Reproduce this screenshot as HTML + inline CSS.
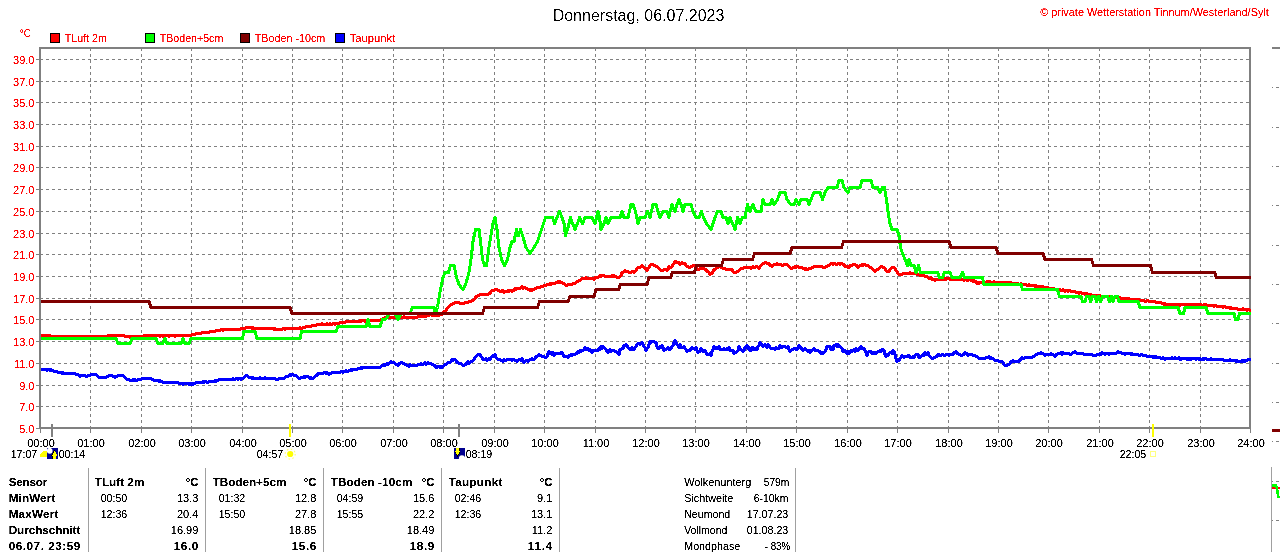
<!DOCTYPE html>
<html lang="de"><head><meta charset="utf-8"><title>Donnerstag, 06.07.2023</title>
<style>
html,body{margin:0;padding:0;background:#fff;overflow:hidden}
svg{display:block}
text{font-family:"Liberation Sans",Arial,sans-serif;white-space:pre}
</style></head><body>
<svg width="1280" height="552" viewBox="0 0 1280 552"><defs><filter id="tf" x="0" y="0" width="1280" height="552" filterUnits="userSpaceOnUse" color-interpolation-filters="sRGB"><feComponentTransfer><feFuncA type="linear" slope="3" intercept="-0.75"/></feComponentTransfer></filter><filter id="tf2" x="0" y="0" width="1280" height="552" filterUnits="userSpaceOnUse" color-interpolation-filters="sRGB"><feComponentTransfer><feFuncA type="linear" slope="1.6" intercept="-0.45"/></feComponentTransfer></filter></defs><g stroke="#808080" stroke-width="1" stroke-dasharray="3 3" shape-rendering="crispEdges"><line x1="40" y1="59.5" x2="1249" y2="59.5"/><line x1="40" y1="81.5" x2="1249" y2="81.5"/><line x1="40" y1="102.5" x2="1249" y2="102.5"/><line x1="40" y1="124.5" x2="1249" y2="124.5"/><line x1="40" y1="146.5" x2="1249" y2="146.5"/><line x1="40" y1="167.5" x2="1249" y2="167.5"/><line x1="40" y1="189.5" x2="1249" y2="189.5"/><line x1="40" y1="211.5" x2="1249" y2="211.5"/><line x1="40" y1="233.5" x2="1249" y2="233.5"/><line x1="40" y1="254.5" x2="1249" y2="254.5"/><line x1="40" y1="276.5" x2="1249" y2="276.5"/><line x1="40" y1="298.5" x2="1249" y2="298.5"/><line x1="40" y1="319.5" x2="1249" y2="319.5"/><line x1="40" y1="341.5" x2="1249" y2="341.5"/><line x1="40" y1="363.5" x2="1249" y2="363.5"/><line x1="40" y1="385.5" x2="1249" y2="385.5"/><line x1="40" y1="406.5" x2="1249" y2="406.5"/><line x1="90.5" y1="48" x2="90.5" y2="427"/><line x1="141.5" y1="48" x2="141.5" y2="427"/><line x1="191.5" y1="48" x2="191.5" y2="427"/><line x1="242.5" y1="48" x2="242.5" y2="427"/><line x1="292.5" y1="48" x2="292.5" y2="427"/><line x1="342.5" y1="48" x2="342.5" y2="427"/><line x1="393.5" y1="48" x2="393.5" y2="427"/><line x1="443.5" y1="48" x2="443.5" y2="427"/><line x1="494.5" y1="48" x2="494.5" y2="427"/><line x1="544.5" y1="48" x2="544.5" y2="427"/><line x1="595.5" y1="48" x2="595.5" y2="427"/><line x1="645.5" y1="48" x2="645.5" y2="427"/><line x1="695.5" y1="48" x2="695.5" y2="427"/><line x1="746.5" y1="48" x2="746.5" y2="427"/><line x1="796.5" y1="48" x2="796.5" y2="427"/><line x1="847.5" y1="48" x2="847.5" y2="427"/><line x1="897.5" y1="48" x2="897.5" y2="427"/><line x1="948.5" y1="48" x2="948.5" y2="427"/><line x1="998.5" y1="48" x2="998.5" y2="427"/><line x1="1048.5" y1="48" x2="1048.5" y2="427"/><line x1="1099.5" y1="48" x2="1099.5" y2="427"/><line x1="1149.5" y1="48" x2="1149.5" y2="427"/><line x1="1200.5" y1="48" x2="1200.5" y2="427"/></g>
<g stroke="#808080" stroke-width="1" shape-rendering="crispEdges"><line x1="36" y1="59.5" x2="40" y2="59.5"/><line x1="36" y1="81.5" x2="40" y2="81.5"/><line x1="36" y1="102.5" x2="40" y2="102.5"/><line x1="36" y1="124.5" x2="40" y2="124.5"/><line x1="36" y1="146.5" x2="40" y2="146.5"/><line x1="36" y1="167.5" x2="40" y2="167.5"/><line x1="36" y1="189.5" x2="40" y2="189.5"/><line x1="36" y1="211.5" x2="40" y2="211.5"/><line x1="36" y1="233.5" x2="40" y2="233.5"/><line x1="36" y1="254.5" x2="40" y2="254.5"/><line x1="36" y1="276.5" x2="40" y2="276.5"/><line x1="36" y1="298.5" x2="40" y2="298.5"/><line x1="36" y1="319.5" x2="40" y2="319.5"/><line x1="36" y1="341.5" x2="40" y2="341.5"/><line x1="36" y1="363.5" x2="40" y2="363.5"/><line x1="36" y1="385.5" x2="40" y2="385.5"/><line x1="36" y1="406.5" x2="40" y2="406.5"/><line x1="36" y1="428.5" x2="40" y2="428.5"/><line x1="40.5" y1="428" x2="40.5" y2="433"/><line x1="90.5" y1="428" x2="90.5" y2="433"/><line x1="141.5" y1="428" x2="141.5" y2="433"/><line x1="191.5" y1="428" x2="191.5" y2="433"/><line x1="242.5" y1="428" x2="242.5" y2="433"/><line x1="292.5" y1="428" x2="292.5" y2="433"/><line x1="342.5" y1="428" x2="342.5" y2="433"/><line x1="393.5" y1="428" x2="393.5" y2="433"/><line x1="443.5" y1="428" x2="443.5" y2="433"/><line x1="494.5" y1="428" x2="494.5" y2="433"/><line x1="544.5" y1="428" x2="544.5" y2="433"/><line x1="595.5" y1="428" x2="595.5" y2="433"/><line x1="645.5" y1="428" x2="645.5" y2="433"/><line x1="695.5" y1="428" x2="695.5" y2="433"/><line x1="746.5" y1="428" x2="746.5" y2="433"/><line x1="796.5" y1="428" x2="796.5" y2="433"/><line x1="847.5" y1="428" x2="847.5" y2="433"/><line x1="897.5" y1="428" x2="897.5" y2="433"/><line x1="948.5" y1="428" x2="948.5" y2="433"/><line x1="998.5" y1="428" x2="998.5" y2="433"/><line x1="1048.5" y1="428" x2="1048.5" y2="433"/><line x1="1099.5" y1="428" x2="1099.5" y2="433"/><line x1="1149.5" y1="428" x2="1149.5" y2="433"/><line x1="1200.5" y1="428" x2="1200.5" y2="433"/><line x1="1250.5" y1="428" x2="1250.5" y2="433"/></g>
<clipPath id="pc"><rect x="41" y="49" width="1210" height="379"/></clipPath>
<g fill="#808080" shape-rendering="crispEdges"><rect x="39" y="47" width="2" height="382"/><rect x="39" y="47" width="1212" height="2"/><rect x="39" y="427" width="1212" height="2"/><rect x="1249" y="47" width="2" height="382"/></g>
<g shape-rendering="crispEdges" clip-path="url(#pc)"><polyline points="40.0,335.5 41.0,335.5 42.0,335.5 43.0,335.5 44.0,336.5 45.0,335.5 46.0,335.5 47.0,336.5 48.0,335.5 49.0,336.5 50.0,335.5 51.0,336.5 52.0,336.5 53.0,336.5 54.0,336.5 55.0,336.5 56.0,336.5 57.0,336.5 58.0,336.5 59.0,336.5 60.0,336.5 61.0,336.5 62.0,336.5 63.0,336.5 64.0,336.5 65.0,336.5 66.0,336.5 67.0,336.5 68.0,336.5 69.0,336.5 70.0,336.5 71.0,336.5 72.0,336.5 73.0,337.5 74.0,336.5 75.0,336.5 76.0,336.5 77.0,336.5 78.0,336.5 79.0,337.5 80.0,336.5 81.0,336.5 82.0,336.5 83.0,336.5 84.0,336.5 85.0,336.5 86.0,336.5 87.0,336.5 88.0,336.5 89.0,336.5 90.0,336.5 91.0,336.5 92.0,336.5 93.0,336.5 94.0,336.5 95.0,336.5 96.0,336.5 97.0,336.5 98.0,336.5 99.0,336.5 100.0,336.5 101.0,336.5 102.0,336.5 103.0,336.5 104.0,336.5 105.0,336.5 106.0,336.5 107.0,336.5 108.0,335.5 109.0,335.5 110.0,335.5 111.0,335.5 112.0,335.5 113.0,335.5 114.0,335.5 115.0,335.5 116.0,335.5 117.0,335.5 118.0,335.5 119.0,335.5 120.0,335.5 121.0,335.5 122.0,335.5 123.0,335.5 124.0,335.5 125.0,336.5 126.0,336.5 127.0,336.5 128.0,336.5 129.0,336.5 130.0,337.5 131.0,336.5 132.0,336.5 133.0,336.5 134.0,336.5 135.0,336.5 136.0,336.5 137.0,336.5 138.0,336.5 139.0,336.5 140.0,336.5 141.0,336.5 142.0,336.5 143.0,336.5 144.0,335.5 145.0,335.5 146.0,335.5 147.0,336.5 148.0,335.5 149.0,335.5 150.0,335.5 151.0,335.5 152.0,335.5 153.0,335.5 154.0,335.5 155.0,335.5 156.0,335.5 157.0,335.5 158.0,335.5 159.0,335.5 160.0,336.5 161.0,335.5 162.0,335.5 163.0,336.5 164.0,335.5 165.0,336.5 166.0,335.5 167.0,335.5 168.0,335.5 169.0,336.5 170.0,335.5 171.0,335.5 172.0,335.5 173.0,335.5 174.0,335.5 175.0,336.5 176.0,335.5 177.0,335.5 178.0,335.5 179.0,335.5 180.0,335.5 181.0,335.5 182.0,335.5 183.0,335.5 184.0,335.5 185.0,335.5 186.0,335.5 187.0,335.5 188.0,335.5 189.0,335.5 190.0,335.5 191.0,335.5 192.0,334.5 193.0,334.5 194.0,334.5 195.0,334.5 196.0,333.5 197.0,333.5 198.0,333.5 199.0,333.5 200.0,333.5 201.0,333.5 202.0,332.5 203.0,332.5 204.0,332.5 205.0,332.5 206.0,332.5 207.0,332.5 208.0,332.5 209.0,332.5 210.0,331.5 211.0,331.5 212.0,331.5 213.0,331.5 214.0,331.5 215.0,331.5 216.0,330.5 217.0,330.5 218.0,330.5 219.0,330.5 220.0,330.5 221.0,329.5 222.0,329.5 223.0,330.5 224.0,329.5 225.0,329.5 226.0,329.5 227.0,329.5 228.0,329.5 229.0,329.5 230.0,329.5 231.0,329.5 232.0,329.5 233.0,329.5 234.0,329.5 235.0,329.5 236.0,329.5 237.0,329.5 238.0,329.5 239.0,329.5 240.0,329.5 241.0,328.5 242.0,328.5 243.0,328.5 244.0,328.5 245.0,328.5 246.0,327.5 247.0,327.5 248.0,327.5 249.0,327.5 250.0,327.5 251.0,327.5 252.0,328.5 253.0,327.5 254.0,328.5 255.0,328.5 256.0,328.5 257.0,328.5 258.0,328.5 259.0,328.5 260.0,328.5 261.0,328.5 262.0,328.5 263.0,328.5 264.0,328.5 265.0,328.5 266.0,328.5 267.0,328.5 268.0,328.5 269.0,328.5 270.0,328.5 271.0,328.5 272.0,328.5 273.0,328.5 274.0,329.5 275.0,328.5 276.0,329.5 277.0,329.5 278.0,329.5 279.0,329.5 280.0,329.5 281.0,329.5 282.0,329.5 283.0,328.5 284.0,328.5 285.0,329.5 286.0,328.5 287.0,328.5 288.0,328.5 289.0,328.5 290.0,328.5 291.0,328.5 292.0,328.5 293.0,328.5 294.0,328.5 295.0,328.5 296.0,328.5 297.0,328.5 298.0,328.5 299.0,328.5 300.0,327.5 301.0,328.5 302.0,328.5 303.0,327.5 304.0,327.5 305.0,327.5 306.0,326.5 307.0,326.5 308.0,326.5 309.0,326.5 310.0,326.5 311.0,326.5 312.0,325.5 313.0,325.5 314.0,325.5 315.0,325.5 316.0,325.5 317.0,324.5 318.0,324.5 319.0,324.5 320.0,324.5 321.0,324.5 322.0,323.5 323.0,324.5 324.0,324.5 325.0,324.5 326.0,324.5 327.0,323.5 328.0,324.5 329.0,324.5 330.0,323.5 331.0,324.5 332.0,324.5 333.0,323.5 334.0,323.5 335.0,324.5 336.0,323.5 337.0,323.5 338.0,323.5 339.0,323.5 340.0,322.5 341.0,322.5 342.0,322.5 343.0,322.5 344.0,322.5 345.0,322.5 346.0,321.5 347.0,321.5 348.0,321.5 349.0,321.5 350.0,321.5 351.0,321.5 352.0,321.5 353.0,321.5 354.0,321.5 355.0,321.5 356.0,321.5 357.0,321.5 358.0,321.5 359.0,321.5 360.0,320.5 361.0,321.5 362.0,320.5 363.0,320.5 364.0,320.5 365.0,321.5 366.0,320.5 367.0,320.5 368.0,320.5 369.0,320.5 370.0,320.5 371.0,320.5 372.0,320.5 373.0,320.5 374.0,320.5 375.0,320.5 376.0,320.5 377.0,320.5 378.0,320.5 379.0,320.5 380.0,320.5 381.0,319.5 382.0,319.5 383.0,318.5 384.0,318.5 385.0,317.5 386.0,317.5 387.0,317.5 388.0,317.5 389.0,317.5 390.0,317.5 391.0,317.5 392.0,317.5 393.0,317.5 394.0,317.5 395.0,317.5 396.0,317.5 397.0,317.5 398.0,317.5 399.0,316.5 400.0,317.5 401.0,316.5 402.0,317.5 403.0,317.5 404.0,316.5 405.0,317.5 406.0,317.5 407.0,317.5 408.0,317.5 409.0,317.5 410.0,317.5 411.0,317.5 412.0,317.5 413.0,317.5 414.0,317.5 415.0,317.5 416.0,317.5 417.0,317.5 418.0,316.5 419.0,316.5 420.0,316.5 421.0,316.5 422.0,316.5 423.0,316.5 424.0,316.5 425.0,316.5 426.0,316.5 427.0,315.5 428.0,315.5 429.0,315.5 430.0,314.5 431.0,314.5 432.0,315.5 433.0,315.5 434.0,315.5 435.0,315.5 436.0,315.5 437.0,315.5 438.0,315.5 439.0,315.5 440.0,314.5 441.0,314.5 442.0,314.5 443.0,313.5 444.0,311.5 445.0,311.5 446.0,310.5 447.0,308.5 448.0,307.5 449.0,306.5 450.0,305.5 451.0,304.5 452.0,304.5 453.0,303.5 454.0,303.5 455.0,302.5 456.0,302.5 457.0,302.5 458.0,302.5 459.0,302.5 460.0,303.5 461.0,303.5 462.0,303.5 463.0,303.5 464.0,303.5 465.0,302.5 466.0,302.5 467.0,302.5 468.0,302.5 469.0,301.5 470.0,301.5 471.0,301.5 472.0,300.5 473.0,300.5 474.0,299.5 475.0,298.5 476.0,296.5 477.0,296.5 478.0,295.5 479.0,295.5 480.0,294.5 481.0,294.5 482.0,294.5 483.0,294.5 484.0,294.5 485.0,294.5 486.0,294.5 487.0,294.5 488.0,294.5 489.0,293.5 490.0,293.5 491.0,291.5 492.0,290.5 493.0,290.5 494.0,290.5 495.0,289.5 496.0,289.5 497.0,289.5 498.0,290.5 499.0,290.5 500.0,291.5 501.0,291.5 502.0,290.5 503.0,290.5 504.0,292.5 505.0,291.5 506.0,291.5 507.0,291.5 508.0,290.5 509.0,291.5 510.0,290.5 511.0,290.5 512.0,291.5 513.0,290.5 514.0,290.5 515.0,288.5 516.0,289.5 517.0,288.5 518.0,288.5 519.0,288.5 520.0,288.5 521.0,287.5 522.0,286.5 523.0,288.5 524.0,287.5 525.0,287.5 526.0,288.5 527.0,288.5 528.0,289.5 529.0,289.5 530.0,290.5 531.0,289.5 532.0,290.5 533.0,289.5 534.0,289.5 535.0,288.5 536.0,288.5 537.0,287.5 538.0,287.5 539.0,287.5 540.0,287.5 541.0,286.5 542.0,286.5 543.0,286.5 544.0,285.5 545.0,285.5 546.0,285.5 547.0,284.5 548.0,284.5 549.0,284.5 550.0,283.5 551.0,284.5 552.0,283.5 553.0,283.5 554.0,283.5 555.0,283.5 556.0,282.5 557.0,282.5 558.0,281.5 559.0,282.5 560.0,281.5 561.0,282.5 562.0,282.5 563.0,283.5 564.0,283.5 565.0,284.5 566.0,285.5 567.0,285.5 568.0,284.5 569.0,284.5 570.0,284.5 571.0,284.5 572.0,284.5 573.0,283.5 574.0,283.5 575.0,283.5 576.0,282.5 577.0,281.5 578.0,281.5 579.0,280.5 580.0,280.5 581.0,279.5 582.0,278.5 583.0,278.5 584.0,278.5 585.0,278.5 586.0,277.5 587.0,278.5 588.0,278.5 589.0,278.5 590.0,278.5 591.0,278.5 592.0,278.5 593.0,278.5 594.0,279.5 595.0,277.5 596.0,277.5 597.0,277.5 598.0,277.5 599.0,276.5 600.0,275.5 601.0,276.5 602.0,275.5 603.0,275.5 604.0,275.5 605.0,276.5 606.0,276.5 607.0,276.5 608.0,276.5 609.0,276.5 610.0,276.5 611.0,276.5 612.0,275.5 613.0,276.5 614.0,275.5 615.0,276.5 616.0,276.5 617.0,277.5 618.0,277.5 619.0,277.5 620.0,276.5 621.0,275.5 622.0,272.5 623.0,272.5 624.0,271.5 625.0,270.5 626.0,271.5 627.0,271.5 628.0,271.5 629.0,272.5 630.0,272.5 631.0,272.5 632.0,271.5 633.0,271.5 634.0,272.5 635.0,271.5 636.0,270.5 637.0,268.5 638.0,267.5 639.0,267.5 640.0,267.5 641.0,266.5 642.0,265.5 643.0,266.5 644.0,267.5 645.0,268.5 646.0,268.5 647.0,270.5 648.0,268.5 649.0,267.5 650.0,265.5 651.0,264.5 652.0,264.5 653.0,264.5 654.0,265.5 655.0,265.5 656.0,266.5 657.0,266.5 658.0,267.5 659.0,268.5 660.0,269.5 661.0,270.5 662.0,270.5 663.0,270.5 664.0,269.5 665.0,269.5 666.0,269.5 667.0,270.5 668.0,269.5 669.0,266.5 670.0,267.5 671.0,267.5 672.0,266.5 673.0,264.5 674.0,263.5 675.0,261.5 676.0,261.5 677.0,262.5 678.0,262.5 679.0,262.5 680.0,264.5 681.0,263.5 682.0,262.5 683.0,263.5 684.0,263.5 685.0,263.5 686.0,265.5 687.0,266.5 688.0,266.5 689.0,267.5 690.0,267.5 691.0,266.5 692.0,266.5 693.0,265.5 694.0,265.5 695.0,265.5 696.0,266.5 697.0,268.5 698.0,269.5 699.0,269.5 700.0,268.5 701.0,268.5 702.0,268.5 703.0,268.5 704.0,268.5 705.0,269.5 706.0,269.5 707.0,271.5 708.0,271.5 709.0,272.5 710.0,274.5 711.0,273.5 712.0,273.5 713.0,271.5 714.0,269.5 715.0,269.5 716.0,268.5 717.0,267.5 718.0,267.5 719.0,266.5 720.0,266.5 721.0,267.5 722.0,267.5 723.0,268.5 724.0,268.5 725.0,268.5 726.0,269.5 727.0,269.5 728.0,269.5 729.0,269.5 730.0,269.5 731.0,269.5 732.0,269.5 733.0,271.5 734.0,272.5 735.0,272.5 736.0,272.5 737.0,271.5 738.0,271.5 739.0,270.5 740.0,269.5 741.0,268.5 742.0,268.5 743.0,268.5 744.0,267.5 745.0,267.5 746.0,267.5 747.0,267.5 748.0,267.5 749.0,267.5 750.0,267.5 751.0,268.5 752.0,267.5 753.0,266.5 754.0,267.5 755.0,267.5 756.0,266.5 757.0,266.5 758.0,267.5 759.0,268.5 760.0,266.5 761.0,265.5 762.0,264.5 763.0,263.5 764.0,263.5 765.0,262.5 766.0,262.5 767.0,263.5 768.0,263.5 769.0,263.5 770.0,265.5 771.0,265.5 772.0,266.5 773.0,265.5 774.0,264.5 775.0,264.5 776.0,264.5 777.0,263.5 778.0,264.5 779.0,264.5 780.0,264.5 781.0,264.5 782.0,265.5 783.0,265.5 784.0,264.5 785.0,264.5 786.0,264.5 787.0,264.5 788.0,265.5 789.0,266.5 790.0,267.5 791.0,268.5 792.0,268.5 793.0,267.5 794.0,267.5 795.0,266.5 796.0,267.5 797.0,266.5 798.0,266.5 799.0,267.5 800.0,267.5 801.0,267.5 802.0,267.5 803.0,268.5 804.0,268.5 805.0,269.5 806.0,268.5 807.0,269.5 808.0,269.5 809.0,268.5 810.0,268.5 811.0,268.5 812.0,267.5 813.0,267.5 814.0,266.5 815.0,266.5 816.0,266.5 817.0,266.5 818.0,266.5 819.0,266.5 820.0,266.5 821.0,266.5 822.0,266.5 823.0,267.5 824.0,267.5 825.0,267.5 826.0,266.5 827.0,266.5 828.0,265.5 829.0,265.5 830.0,264.5 831.0,263.5 832.0,263.5 833.0,264.5 834.0,263.5 835.0,263.5 836.0,264.5 837.0,264.5 838.0,263.5 839.0,263.5 840.0,264.5 841.0,263.5 842.0,263.5 843.0,264.5 844.0,264.5 845.0,266.5 846.0,266.5 847.0,266.5 848.0,267.5 849.0,267.5 850.0,265.5 851.0,265.5 852.0,265.5 853.0,264.5 854.0,264.5 855.0,264.5 856.0,265.5 857.0,265.5 858.0,267.5 859.0,266.5 860.0,265.5 861.0,265.5 862.0,264.5 863.0,265.5 864.0,264.5 865.0,264.5 866.0,265.5 867.0,265.5 868.0,265.5 869.0,266.5 870.0,267.5 871.0,267.5 872.0,268.5 873.0,269.5 874.0,270.5 875.0,271.5 876.0,270.5 877.0,269.5 878.0,269.5 879.0,268.5 880.0,267.5 881.0,266.5 882.0,266.5 883.0,267.5 884.0,267.5 885.0,268.5 886.0,270.5 887.0,271.5 888.0,271.5 889.0,271.5 890.0,269.5 891.0,268.5 892.0,267.5 893.0,267.5 894.0,267.5 895.0,268.5 896.0,270.5 897.0,271.5 898.0,273.5 899.0,274.5 900.0,274.5 901.0,274.5 902.0,274.5 903.0,273.5 904.0,273.5 905.0,273.5 906.0,273.5 907.0,273.5 908.0,273.5 909.0,273.5 910.0,272.5 911.0,273.5 912.0,273.5 913.0,273.5 914.0,273.5 915.0,273.5 916.0,273.5 917.0,274.5 918.0,274.5 919.0,274.5 920.0,275.5 921.0,274.5 922.0,275.5 923.0,274.5 924.0,275.5 925.0,276.5 926.0,276.5 927.0,276.5 928.0,277.5 929.0,278.5 930.0,278.5 931.0,277.5 932.0,279.5 933.0,279.5 934.0,279.5 935.0,280.5 936.0,279.5 937.0,279.5 938.0,279.5 939.0,279.5 940.0,279.5 941.0,279.5 942.0,279.5 943.0,279.5 944.0,279.5 945.0,278.5 946.0,279.5 947.0,278.5 948.0,278.5 949.0,278.5 950.0,279.5 951.0,279.5 952.0,279.5 953.0,279.5 954.0,279.5 955.0,279.5 956.0,279.5 957.0,279.5 958.0,279.5 959.0,278.5 960.0,279.5 961.0,279.5 962.0,279.5 963.0,279.5 964.0,280.5 965.0,279.5 966.0,279.5 967.0,280.5 968.0,280.5 969.0,279.5 970.0,279.5 971.0,280.5 972.0,280.5 973.0,281.5 974.0,280.5 975.0,281.5 976.0,281.5 977.0,283.5 978.0,282.5 979.0,283.5 980.0,282.5 981.0,282.5 982.0,282.5 983.0,282.5 984.0,281.5 985.0,282.5 986.0,282.5 987.0,281.5 988.0,281.5 989.0,282.5 990.0,281.5 991.0,282.5 992.0,282.5 993.0,282.5 994.0,281.5 995.0,282.5 996.0,282.5 997.0,282.5 998.0,282.5 999.0,282.5 1000.0,282.5 1001.0,282.5 1002.0,282.5 1003.0,282.5 1004.0,282.5 1005.0,282.5 1006.0,282.5 1007.0,283.5 1008.0,282.5 1009.0,282.5 1010.0,282.5 1011.0,282.5 1012.0,283.5 1013.0,283.5 1014.0,283.5 1015.0,283.5 1016.0,284.5 1017.0,283.5 1018.0,283.5 1019.0,284.5 1020.0,284.5 1021.0,283.5 1022.0,284.5 1023.0,284.5 1024.0,284.5 1025.0,284.5 1026.0,284.5 1027.0,285.5 1028.0,285.5 1029.0,284.5 1030.0,285.5 1031.0,285.5 1032.0,285.5 1033.0,285.5 1034.0,285.5 1035.0,286.5 1036.0,285.5 1037.0,286.5 1038.0,286.5 1039.0,286.5 1040.0,286.5 1041.0,287.5 1042.0,286.5 1043.0,286.5 1044.0,287.5 1045.0,287.5 1046.0,287.5 1047.0,287.5 1048.0,287.5 1049.0,288.5 1050.0,288.5 1051.0,288.5 1052.0,288.5 1053.0,289.5 1054.0,288.5 1055.0,289.5 1056.0,289.5 1057.0,289.5 1058.0,289.5 1059.0,290.5 1060.0,289.5 1061.0,290.5 1062.0,290.5 1063.0,289.5 1064.0,290.5 1065.0,291.5 1066.0,290.5 1067.0,290.5 1068.0,291.5 1069.0,290.5 1070.0,290.5 1071.0,291.5 1072.0,291.5 1073.0,291.5 1074.0,291.5 1075.0,291.5 1076.0,292.5 1077.0,292.5 1078.0,292.5 1079.0,293.5 1080.0,292.5 1081.0,292.5 1082.0,293.5 1083.0,293.5 1084.0,293.5 1085.0,294.5 1086.0,293.5 1087.0,293.5 1088.0,294.5 1089.0,294.5 1090.0,295.5 1091.0,294.5 1092.0,295.5 1093.0,295.5 1094.0,295.5 1095.0,295.5 1096.0,295.5 1097.0,295.5 1098.0,295.5 1099.0,295.5 1100.0,295.5 1101.0,296.5 1102.0,296.5 1103.0,296.5 1104.0,296.5 1105.0,296.5 1106.0,296.5 1107.0,296.5 1108.0,296.5 1109.0,296.5 1110.0,297.5 1111.0,296.5 1112.0,297.5 1113.0,297.5 1114.0,297.5 1115.0,297.5 1116.0,297.5 1117.0,297.5 1118.0,298.5 1119.0,297.5 1120.0,297.5 1121.0,298.5 1122.0,298.5 1123.0,298.5 1124.0,298.5 1125.0,298.5 1126.0,298.5 1127.0,299.5 1128.0,298.5 1129.0,298.5 1130.0,299.5 1131.0,299.5 1132.0,299.5 1133.0,299.5 1134.0,299.5 1135.0,299.5 1136.0,299.5 1137.0,299.5 1138.0,299.5 1139.0,299.5 1140.0,300.5 1141.0,300.5 1142.0,300.5 1143.0,300.5 1144.0,300.5 1145.0,301.5 1146.0,301.5 1147.0,300.5 1148.0,300.5 1149.0,301.5 1150.0,301.5 1151.0,301.5 1152.0,301.5 1153.0,301.5 1154.0,301.5 1155.0,301.5 1156.0,302.5 1157.0,302.5 1158.0,302.5 1159.0,302.5 1160.0,302.5 1161.0,302.5 1162.0,303.5 1163.0,303.5 1164.0,304.5 1165.0,303.5 1166.0,304.5 1167.0,304.5 1168.0,304.5 1169.0,304.5 1170.0,304.5 1171.0,305.5 1172.0,304.5 1173.0,304.5 1174.0,304.5 1175.0,304.5 1176.0,304.5 1177.0,305.5 1178.0,304.5 1179.0,304.5 1180.0,305.5 1181.0,304.5 1182.0,304.5 1183.0,304.5 1184.0,304.5 1185.0,304.5 1186.0,305.5 1187.0,304.5 1188.0,304.5 1189.0,304.5 1190.0,304.5 1191.0,305.5 1192.0,304.5 1193.0,304.5 1194.0,305.5 1195.0,304.5 1196.0,305.5 1197.0,304.5 1198.0,304.5 1199.0,304.5 1200.0,305.5 1201.0,304.5 1202.0,305.5 1203.0,305.5 1204.0,304.5 1205.0,304.5 1206.0,304.5 1207.0,305.5 1208.0,305.5 1209.0,305.5 1210.0,305.5 1211.0,305.5 1212.0,305.5 1213.0,305.5 1214.0,306.5 1215.0,305.5 1216.0,305.5 1217.0,306.5 1218.0,306.5 1219.0,306.5 1220.0,306.5 1221.0,306.5 1222.0,306.5 1223.0,307.5 1224.0,306.5 1225.0,306.5 1226.0,307.5 1227.0,307.5 1228.0,307.5 1229.0,307.5 1230.0,308.5 1231.0,307.5 1232.0,308.5 1233.0,308.5 1234.0,308.5 1235.0,308.5 1236.0,308.5 1237.0,308.5 1238.0,309.5 1239.0,309.5 1240.0,309.5 1241.0,309.5 1242.0,309.5 1243.0,308.5 1244.0,309.5 1245.0,309.5 1246.0,309.5 1247.0,310.5 1248.0,309.5 1249.0,309.5 1250.0,310.5" fill="none" stroke="#ff0000" stroke-width="3" stroke-linejoin="round" stroke-linecap="square"/><polyline points="40.0,338.5 116.0,338.5 118.0,343.5 130.0,343.5 132.0,338.5 156.0,338.5 158.0,343.5 162.5,343.5 165.0,338.5 167.0,343.5 181.0,343.5 183.0,338.5 185.0,343.5 189.0,343.5 191.0,338.5 242.5,338.5 244.0,331.5 255.0,331.5 257.0,338.5 300.0,338.5 301.5,331.5 336.0,331.5 338.0,326.5 350.0,326.5 366.0,326.5 368.0,319.5 370.0,326.5 380.0,326.5 382.5,319.5 385.0,319.5 390.0,313.5 395.0,313.5 398.0,319.5 401.0,313.5 410.0,313.5 412.5,307.5 417.5,307.5 422.5,307.5 430.0,307.5 434.0,307.5 435.5,313.5 437.5,307.5 440.5,289.5 443.0,277.5 445.0,272.5 448.5,272.5 450.5,265.5 454.0,265.5 456.5,277.5 459.0,284.5 463.0,289.5 465.5,284.5 469.0,272.5 471.0,259.5 473.0,241.5 475.5,229.5 479.0,229.5 480.5,241.5 482.5,259.5 484.5,265.5 486.5,265.5 489.0,247.5 491.0,235.5 493.0,223.5 495.0,217.5 497.0,229.5 499.0,247.5 501.5,259.5 504.5,265.5 507.5,259.5 510.0,247.5 512.0,241.5 514.0,241.5 516.5,229.5 518.5,235.5 520.5,229.5 522.5,235.5 526.0,247.5 530.0,253.5 534.0,247.5 537.5,241.5 541.5,229.5 543.5,223.5 545.5,217.5 552.5,217.5 554.5,223.5 557.0,217.5 559.5,211.5 562.0,217.5 564.0,223.5 565.5,235.5 567.5,229.5 570.5,217.5 572.5,223.5 575.0,229.5 577.5,223.5 579.5,217.5 582.5,223.5 585.0,217.5 592.0,217.5 595.0,223.5 598.0,211.5 599.5,217.5 601.0,229.5 604.0,223.5 606.0,217.5 608.0,223.5 611.0,217.5 620.0,217.5 622.0,211.5 624.0,217.5 628.0,217.5 631.0,204.5 633.0,204.5 635.5,211.5 638.0,223.5 640.0,217.5 645.0,217.5 647.5,211.5 650.0,217.5 653.0,204.5 656.0,204.5 658.0,211.5 660.0,217.5 663.0,211.5 667.0,211.5 669.0,217.5 670.0,211.5 672.0,204.5 675.0,211.5 677.0,204.5 679.0,199.5 681.0,204.5 683.0,211.5 685.0,204.5 691.0,204.5 693.0,211.5 696.0,217.5 699.0,217.5 701.5,211.5 703.5,217.5 706.5,223.5 711.0,229.5 713.0,223.5 715.0,217.5 717.5,211.5 721.0,211.5 723.0,217.5 726.0,217.5 728.0,223.5 730.0,217.5 732.5,223.5 735.0,229.5 737.5,217.5 740.0,223.5 742.5,217.5 745.0,217.5 747.5,204.5 750.0,211.5 753.0,204.5 756.0,211.5 761.0,211.5 763.0,199.5 765.0,204.5 770.0,204.5 772.0,199.5 774.0,204.5 777.5,199.5 780.0,192.5 783.0,192.5 785.0,192.5 787.0,199.5 791.0,204.5 794.0,204.5 796.0,199.5 799.0,204.5 801.0,199.5 807.0,199.5 809.0,204.5 811.0,199.5 814.0,192.5 820.0,192.5 822.5,199.5 825.0,192.5 828.0,187.5 832.0,187.5 834.0,187.5 837.0,187.5 839.0,180.5 842.0,180.5 844.0,187.5 848.0,192.5 850.0,187.5 860.0,187.5 862.0,180.5 871.0,180.5 873.0,187.5 877.5,187.5 880.0,192.5 882.5,187.5 884.5,187.5 886.5,199.5 888.0,211.5 890.0,223.5 892.0,229.5 897.0,229.5 899.0,235.5 900.5,247.5 902.5,253.5 905.0,259.5 907.5,265.5 909.0,259.5 911.0,265.5 914.0,265.5 916.0,272.5 918.5,265.5 920.5,272.5 937.5,272.5 939.5,277.5 942.5,277.5 944.5,272.5 950.0,272.5 952.0,277.5 960.0,277.5 962.5,272.5 964.5,277.5 982.5,277.5 984.0,284.5 1021.0,284.5 1022.5,289.5 1057.5,289.5 1059.5,296.5 1081.0,296.5 1082.5,301.5 1085.0,301.5 1086.5,296.5 1089.0,296.5 1090.5,301.5 1092.5,296.5 1095.0,296.5 1096.5,301.5 1098.5,296.5 1100.5,301.5 1102.5,296.5 1107.5,296.5 1109.5,301.5 1111.5,296.5 1113.0,301.5 1115.0,296.5 1117.5,296.5 1119.0,301.5 1138.0,301.5 1140.0,307.5 1178.0,307.5 1180.0,313.5 1183.5,313.5 1185.0,307.5 1206.0,307.5 1208.0,313.5 1234.0,313.5 1235.5,319.5 1238.0,319.5 1239.5,313.5 1250.0,313.5" fill="none" stroke="#00ff00" stroke-width="3" stroke-linejoin="round" stroke-linecap="square"/><polyline points="40.0,301.5 149.0,301.5 151.0,307.5 290.0,307.5 292.0,313.5 482.5,313.5 484.5,307.5 537.5,307.5 539.5,301.5 568.0,301.5 570.0,296.5 594.0,296.5 596.0,289.5 618.5,289.5 620.5,284.5 647.0,284.5 649.0,277.5 670.5,277.5 672.5,272.5 694.5,272.5 696.5,265.5 721.5,265.5 723.5,259.5 752.5,259.5 754.5,253.5 790.0,253.5 792.0,247.5 841.5,247.5 843.5,241.5 949.0,241.5 951.0,247.5 996.0,247.5 998.0,253.5 1043.0,253.5 1045.0,259.5 1091.5,259.5 1093.5,265.5 1150.5,265.5 1152.5,272.5 1214.5,272.5 1216.5,277.5 1249.0,277.5" fill="none" stroke="#800000" stroke-width="3" stroke-linejoin="round" stroke-linecap="square"/><polyline points="40.0,369.5 41.0,369.5 42.0,369.5 43.0,369.5 44.0,369.5 45.0,369.5 46.0,369.5 47.0,370.5 48.0,369.5 49.0,369.5 50.0,370.5 51.0,369.5 52.0,370.5 53.0,370.5 54.0,371.5 55.0,371.5 56.0,371.5 57.0,371.5 58.0,372.5 59.0,372.5 60.0,372.5 61.0,372.5 62.0,373.5 63.0,372.5 64.0,373.5 65.0,373.5 66.0,373.5 67.0,373.5 68.0,373.5 69.0,373.5 70.0,373.5 71.0,373.5 72.0,373.5 73.0,373.5 74.0,373.5 75.0,373.5 76.0,374.5 77.0,374.5 78.0,374.5 79.0,375.5 80.0,376.5 81.0,375.5 82.0,375.5 83.0,375.5 84.0,375.5 85.0,375.5 86.0,376.5 87.0,376.5 88.0,375.5 89.0,375.5 90.0,375.5 91.0,374.5 92.0,374.5 93.0,374.5 94.0,374.5 95.0,374.5 96.0,374.5 97.0,375.5 98.0,376.5 99.0,377.5 100.0,377.5 101.0,377.5 102.0,377.5 103.0,377.5 104.0,377.5 105.0,377.5 106.0,377.5 107.0,376.5 108.0,376.5 109.0,375.5 110.0,375.5 111.0,375.5 112.0,375.5 113.0,376.5 114.0,376.5 115.0,377.5 116.0,376.5 117.0,376.5 118.0,375.5 119.0,375.5 120.0,375.5 121.0,375.5 122.0,375.5 123.0,375.5 124.0,376.5 125.0,377.5 126.0,378.5 127.0,379.5 128.0,379.5 129.0,379.5 130.0,380.5 131.0,380.5 132.0,380.5 133.0,379.5 134.0,380.5 135.0,379.5 136.0,380.5 137.0,380.5 138.0,379.5 139.0,379.5 140.0,379.5 141.0,379.5 142.0,378.5 143.0,378.5 144.0,378.5 145.0,378.5 146.0,378.5 147.0,378.5 148.0,378.5 149.0,378.5 150.0,378.5 151.0,378.5 152.0,379.5 153.0,379.5 154.0,380.5 155.0,380.5 156.0,380.5 157.0,380.5 158.0,380.5 159.0,381.5 160.0,380.5 161.0,381.5 162.0,381.5 163.0,382.5 164.0,382.5 165.0,382.5 166.0,382.5 167.0,382.5 168.0,382.5 169.0,382.5 170.0,382.5 171.0,382.5 172.0,382.5 173.0,382.5 174.0,382.5 175.0,382.5 176.0,382.5 177.0,382.5 178.0,382.5 179.0,383.5 180.0,383.5 181.0,383.5 182.0,383.5 183.0,384.5 184.0,383.5 185.0,383.5 186.0,383.5 187.0,383.5 188.0,383.5 189.0,384.5 190.0,383.5 191.0,384.5 192.0,383.5 193.0,384.5 194.0,383.5 195.0,383.5 196.0,382.5 197.0,382.5 198.0,382.5 199.0,382.5 200.0,382.5 201.0,382.5 202.0,382.5 203.0,381.5 204.0,382.5 205.0,381.5 206.0,381.5 207.0,382.5 208.0,382.5 209.0,381.5 210.0,381.5 211.0,381.5 212.0,381.5 213.0,381.5 214.0,381.5 215.0,380.5 216.0,381.5 217.0,380.5 218.0,380.5 219.0,379.5 220.0,379.5 221.0,379.5 222.0,379.5 223.0,379.5 224.0,379.5 225.0,379.5 226.0,379.5 227.0,379.5 228.0,379.5 229.0,379.5 230.0,379.5 231.0,379.5 232.0,379.5 233.0,378.5 234.0,379.5 235.0,379.5 236.0,378.5 237.0,378.5 238.0,379.5 239.0,378.5 240.0,378.5 241.0,379.5 242.0,378.5 243.0,378.5 244.0,377.5 245.0,376.5 246.0,375.5 247.0,375.5 248.0,376.5 249.0,377.5 250.0,377.5 251.0,377.5 252.0,378.5 253.0,377.5 254.0,378.5 255.0,378.5 256.0,378.5 257.0,378.5 258.0,378.5 259.0,378.5 260.0,377.5 261.0,378.5 262.0,378.5 263.0,378.5 264.0,378.5 265.0,377.5 266.0,378.5 267.0,378.5 268.0,378.5 269.0,378.5 270.0,378.5 271.0,378.5 272.0,378.5 273.0,378.5 274.0,378.5 275.0,378.5 276.0,379.5 277.0,379.5 278.0,379.5 279.0,378.5 280.0,378.5 281.0,378.5 282.0,378.5 283.0,378.5 284.0,378.5 285.0,377.5 286.0,376.5 287.0,376.5 288.0,376.5 289.0,375.5 290.0,374.5 291.0,375.5 292.0,374.5 293.0,374.5 294.0,375.5 295.0,375.5 296.0,375.5 297.0,376.5 298.0,377.5 299.0,378.5 300.0,378.5 301.0,377.5 302.0,377.5 303.0,377.5 304.0,376.5 305.0,377.5 306.0,376.5 307.0,376.5 308.0,376.5 309.0,377.5 310.0,378.5 311.0,377.5 312.0,378.5 313.0,378.5 314.0,377.5 315.0,376.5 316.0,375.5 317.0,375.5 318.0,373.5 319.0,373.5 320.0,373.5 321.0,373.5 322.0,373.5 323.0,373.5 324.0,372.5 325.0,372.5 326.0,373.5 327.0,372.5 328.0,373.5 329.0,374.5 330.0,373.5 331.0,373.5 332.0,372.5 333.0,372.5 334.0,372.5 335.0,372.5 336.0,372.5 337.0,372.5 338.0,372.5 339.0,372.5 340.0,372.5 341.0,371.5 342.0,371.5 343.0,372.5 344.0,371.5 345.0,371.5 346.0,370.5 347.0,371.5 348.0,371.5 349.0,370.5 350.0,370.5 351.0,369.5 352.0,370.5 353.0,369.5 354.0,369.5 355.0,369.5 356.0,369.5 357.0,369.5 358.0,368.5 359.0,368.5 360.0,368.5 361.0,367.5 362.0,368.5 363.0,367.5 364.0,367.5 365.0,367.5 366.0,367.5 367.0,367.5 368.0,367.5 369.0,367.5 370.0,367.5 371.0,367.5 372.0,367.5 373.0,367.5 374.0,367.5 375.0,367.5 376.0,367.5 377.0,367.5 378.0,367.5 379.0,367.5 380.0,367.5 381.0,366.5 382.0,365.5 383.0,365.5 384.0,364.5 385.0,365.5 386.0,364.5 387.0,363.5 388.0,364.5 389.0,363.5 390.0,362.5 391.0,361.5 392.0,362.5 393.0,362.5 394.0,362.5 395.0,363.5 396.0,364.5 397.0,364.5 398.0,365.5 399.0,363.5 400.0,363.5 401.0,362.5 402.0,362.5 403.0,363.5 404.0,363.5 405.0,364.5 406.0,364.5 407.0,365.5 408.0,365.5 409.0,366.5 410.0,364.5 411.0,365.5 412.0,365.5 413.0,365.5 414.0,365.5 415.0,365.5 416.0,365.5 417.0,365.5 418.0,364.5 419.0,364.5 420.0,364.5 421.0,363.5 422.0,364.5 423.0,364.5 424.0,363.5 425.0,362.5 426.0,364.5 427.0,363.5 428.0,362.5 429.0,363.5 430.0,363.5 431.0,363.5 432.0,364.5 433.0,364.5 434.0,365.5 435.0,365.5 436.0,367.5 437.0,367.5 438.0,366.5 439.0,366.5 440.0,367.5 441.0,366.5 442.0,367.5 443.0,366.5 444.0,365.5 445.0,364.5 446.0,364.5 447.0,363.5 448.0,362.5 449.0,362.5 450.0,362.5 451.0,361.5 452.0,359.5 453.0,360.5 454.0,359.5 455.0,359.5 456.0,360.5 457.0,362.5 458.0,362.5 459.0,363.5 460.0,363.5 461.0,363.5 462.0,364.5 463.0,365.5 464.0,365.5 465.0,364.5 466.0,364.5 467.0,362.5 468.0,361.5 469.0,363.5 470.0,362.5 471.0,361.5 472.0,361.5 473.0,360.5 474.0,359.5 475.0,357.5 476.0,356.5 477.0,355.5 478.0,354.5 479.0,354.5 480.0,354.5 481.0,356.5 482.0,357.5 483.0,359.5 484.0,359.5 485.0,359.5 486.0,358.5 487.0,360.5 488.0,359.5 489.0,358.5 490.0,359.5 491.0,357.5 492.0,356.5 493.0,355.5 494.0,356.5 495.0,354.5 496.0,357.5 497.0,358.5 498.0,359.5 499.0,359.5 500.0,359.5 501.0,360.5 502.0,360.5 503.0,361.5 504.0,359.5 505.0,360.5 506.0,360.5 507.0,359.5 508.0,359.5 509.0,359.5 510.0,359.5 511.0,359.5 512.0,360.5 513.0,359.5 514.0,359.5 515.0,360.5 516.0,360.5 517.0,361.5 518.0,360.5 519.0,359.5 520.0,359.5 521.0,360.5 522.0,358.5 523.0,361.5 524.0,362.5 525.0,361.5 526.0,360.5 527.0,360.5 528.0,361.5 529.0,360.5 530.0,359.5 531.0,359.5 532.0,358.5 533.0,359.5 534.0,359.5 535.0,358.5 536.0,356.5 537.0,356.5 538.0,355.5 539.0,354.5 540.0,355.5 541.0,355.5 542.0,356.5 543.0,356.5 544.0,356.5 545.0,357.5 546.0,357.5 547.0,356.5 548.0,353.5 549.0,351.5 550.0,353.5 551.0,352.5 552.0,354.5 553.0,352.5 554.0,355.5 555.0,353.5 556.0,353.5 557.0,353.5 558.0,353.5 559.0,353.5 560.0,353.5 561.0,352.5 562.0,352.5 563.0,354.5 564.0,356.5 565.0,356.5 566.0,356.5 567.0,356.5 568.0,357.5 569.0,355.5 570.0,355.5 571.0,354.5 572.0,355.5 573.0,354.5 574.0,354.5 575.0,354.5 576.0,353.5 577.0,353.5 578.0,351.5 579.0,352.5 580.0,350.5 581.0,351.5 582.0,350.5 583.0,350.5 584.0,349.5 585.0,347.5 586.0,349.5 587.0,348.5 588.0,348.5 589.0,350.5 590.0,349.5 591.0,350.5 592.0,352.5 593.0,350.5 594.0,350.5 595.0,350.5 596.0,350.5 597.0,350.5 598.0,350.5 599.0,348.5 600.0,349.5 601.0,346.5 602.0,348.5 603.0,346.5 604.0,347.5 605.0,348.5 606.0,349.5 607.0,351.5 608.0,352.5 609.0,351.5 610.0,349.5 611.0,351.5 612.0,350.5 613.0,350.5 614.0,350.5 615.0,351.5 616.0,351.5 617.0,352.5 618.0,353.5 619.0,354.5 620.0,349.5 621.0,349.5 622.0,348.5 623.0,348.5 624.0,345.5 625.0,345.5 626.0,344.5 627.0,345.5 628.0,347.5 629.0,348.5 630.0,349.5 631.0,349.5 632.0,347.5 633.0,349.5 634.0,349.5 635.0,347.5 636.0,346.5 637.0,344.5 638.0,343.5 639.0,343.5 640.0,344.5 641.0,343.5 642.0,342.5 643.0,344.5 644.0,346.5 645.0,347.5 646.0,350.5 647.0,348.5 648.0,347.5 649.0,344.5 650.0,341.5 651.0,342.5 652.0,341.5 653.0,341.5 654.0,341.5 655.0,342.5 656.0,342.5 657.0,346.5 658.0,348.5 659.0,348.5 660.0,346.5 661.0,347.5 662.0,345.5 663.0,347.5 664.0,350.5 665.0,349.5 666.0,349.5 667.0,348.5 668.0,347.5 669.0,349.5 670.0,349.5 671.0,348.5 672.0,346.5 673.0,345.5 674.0,342.5 675.0,340.5 676.0,342.5 677.0,344.5 678.0,345.5 679.0,347.5 680.0,344.5 681.0,347.5 682.0,347.5 683.0,347.5 684.0,346.5 685.0,348.5 686.0,349.5 687.0,351.5 688.0,350.5 689.0,350.5 690.0,350.5 691.0,348.5 692.0,347.5 693.0,348.5 694.0,348.5 695.0,349.5 696.0,347.5 697.0,350.5 698.0,352.5 699.0,351.5 700.0,351.5 701.0,348.5 702.0,350.5 703.0,351.5 704.0,350.5 705.0,350.5 706.0,352.5 707.0,354.5 708.0,354.5 709.0,354.5 710.0,353.5 711.0,355.5 712.0,351.5 713.0,349.5 714.0,346.5 715.0,347.5 716.0,348.5 717.0,347.5 718.0,348.5 719.0,346.5 720.0,349.5 721.0,349.5 722.0,349.5 723.0,349.5 724.0,348.5 725.0,349.5 726.0,349.5 727.0,348.5 728.0,349.5 729.0,347.5 730.0,350.5 731.0,350.5 732.0,350.5 733.0,350.5 734.0,353.5 735.0,352.5 736.0,352.5 737.0,351.5 738.0,350.5 739.0,346.5 740.0,348.5 741.0,349.5 742.0,350.5 743.0,351.5 744.0,350.5 745.0,347.5 746.0,346.5 747.0,345.5 748.0,348.5 749.0,347.5 750.0,350.5 751.0,350.5 752.0,347.5 753.0,347.5 754.0,349.5 755.0,349.5 756.0,348.5 757.0,349.5 758.0,346.5 759.0,345.5 760.0,342.5 761.0,343.5 762.0,344.5 763.0,346.5 764.0,345.5 765.0,344.5 766.0,345.5 767.0,347.5 768.0,344.5 769.0,345.5 770.0,347.5 771.0,348.5 772.0,348.5 773.0,348.5 774.0,348.5 775.0,349.5 776.0,347.5 777.0,348.5 778.0,348.5 779.0,348.5 780.0,345.5 781.0,347.5 782.0,347.5 783.0,346.5 784.0,346.5 785.0,346.5 786.0,347.5 787.0,347.5 788.0,346.5 789.0,349.5 790.0,351.5 791.0,350.5 792.0,349.5 793.0,349.5 794.0,348.5 795.0,348.5 796.0,349.5 797.0,349.5 798.0,347.5 799.0,345.5 800.0,346.5 801.0,348.5 802.0,348.5 803.0,350.5 804.0,349.5 805.0,348.5 806.0,349.5 807.0,350.5 808.0,351.5 809.0,350.5 810.0,352.5 811.0,350.5 812.0,350.5 813.0,349.5 814.0,348.5 815.0,350.5 816.0,350.5 817.0,350.5 818.0,350.5 819.0,351.5 820.0,351.5 821.0,353.5 822.0,352.5 823.0,353.5 824.0,352.5 825.0,351.5 826.0,349.5 827.0,346.5 828.0,346.5 829.0,346.5 830.0,346.5 831.0,349.5 832.0,349.5 833.0,349.5 834.0,345.5 835.0,345.5 836.0,344.5 837.0,346.5 838.0,344.5 839.0,346.5 840.0,346.5 841.0,347.5 842.0,348.5 843.0,351.5 844.0,351.5 845.0,350.5 846.0,351.5 847.0,353.5 848.0,351.5 849.0,353.5 850.0,351.5 851.0,350.5 852.0,351.5 853.0,350.5 854.0,349.5 855.0,351.5 856.0,348.5 857.0,350.5 858.0,350.5 859.0,348.5 860.0,348.5 861.0,346.5 862.0,348.5 863.0,348.5 864.0,348.5 865.0,350.5 866.0,352.5 867.0,355.5 868.0,352.5 869.0,351.5 870.0,351.5 871.0,351.5 872.0,353.5 873.0,352.5 874.0,353.5 875.0,352.5 876.0,353.5 877.0,352.5 878.0,351.5 879.0,351.5 880.0,350.5 881.0,351.5 882.0,349.5 883.0,349.5 884.0,350.5 885.0,354.5 886.0,356.5 887.0,354.5 888.0,355.5 889.0,353.5 890.0,352.5 891.0,352.5 892.0,353.5 893.0,350.5 894.0,351.5 895.0,354.5 896.0,358.5 897.0,361.5 898.0,360.5 899.0,360.5 900.0,358.5 901.0,357.5 902.0,355.5 903.0,356.5 904.0,357.5 905.0,356.5 906.0,356.5 907.0,356.5 908.0,355.5 909.0,355.5 910.0,357.5 911.0,357.5 912.0,357.5 913.0,356.5 914.0,357.5 915.0,355.5 916.0,354.5 917.0,354.5 918.0,354.5 919.0,357.5 920.0,357.5 921.0,356.5 922.0,355.5 923.0,354.5 924.0,355.5 925.0,352.5 926.0,354.5 927.0,354.5 928.0,352.5 929.0,355.5 930.0,356.5 931.0,357.5 932.0,358.5 933.0,358.5 934.0,357.5 935.0,357.5 936.0,356.5 937.0,356.5 938.0,354.5 939.0,354.5 940.0,355.5 941.0,355.5 942.0,354.5 943.0,354.5 944.0,355.5 945.0,355.5 946.0,354.5 947.0,354.5 948.0,354.5 949.0,355.5 950.0,354.5 951.0,354.5 952.0,354.5 953.0,354.5 954.0,352.5 955.0,352.5 956.0,351.5 957.0,353.5 958.0,353.5 959.0,354.5 960.0,354.5 961.0,355.5 962.0,355.5 963.0,354.5 964.0,354.5 965.0,352.5 966.0,353.5 967.0,353.5 968.0,355.5 969.0,354.5 970.0,354.5 971.0,354.5 972.0,354.5 973.0,355.5 974.0,355.5 975.0,355.5 976.0,356.5 977.0,356.5 978.0,357.5 979.0,358.5 980.0,358.5 981.0,358.5 982.0,358.5 983.0,358.5 984.0,358.5 985.0,358.5 986.0,357.5 987.0,357.5 988.0,357.5 989.0,356.5 990.0,358.5 991.0,357.5 992.0,358.5 993.0,358.5 994.0,359.5 995.0,360.5 996.0,360.5 997.0,360.5 998.0,360.5 999.0,361.5 1000.0,361.5 1001.0,361.5 1002.0,361.5 1003.0,362.5 1004.0,364.5 1005.0,365.5 1006.0,365.5 1007.0,365.5 1008.0,364.5 1009.0,364.5 1010.0,363.5 1011.0,361.5 1012.0,361.5 1013.0,360.5 1014.0,361.5 1015.0,361.5 1016.0,361.5 1017.0,361.5 1018.0,361.5 1019.0,361.5 1020.0,359.5 1021.0,359.5 1022.0,357.5 1023.0,358.5 1024.0,358.5 1025.0,357.5 1026.0,357.5 1027.0,357.5 1028.0,357.5 1029.0,357.5 1030.0,357.5 1031.0,357.5 1032.0,357.5 1033.0,356.5 1034.0,356.5 1035.0,355.5 1036.0,354.5 1037.0,354.5 1038.0,353.5 1039.0,353.5 1040.0,353.5 1041.0,352.5 1042.0,353.5 1043.0,353.5 1044.0,354.5 1045.0,355.5 1046.0,354.5 1047.0,354.5 1048.0,354.5 1049.0,354.5 1050.0,354.5 1051.0,353.5 1052.0,354.5 1053.0,354.5 1054.0,355.5 1055.0,356.5 1056.0,354.5 1057.0,354.5 1058.0,353.5 1059.0,353.5 1060.0,353.5 1061.0,352.5 1062.0,354.5 1063.0,352.5 1064.0,353.5 1065.0,353.5 1066.0,353.5 1067.0,353.5 1068.0,353.5 1069.0,353.5 1070.0,354.5 1071.0,354.5 1072.0,353.5 1073.0,352.5 1074.0,352.5 1075.0,351.5 1076.0,352.5 1077.0,353.5 1078.0,353.5 1079.0,353.5 1080.0,353.5 1081.0,353.5 1082.0,353.5 1083.0,353.5 1084.0,354.5 1085.0,354.5 1086.0,354.5 1087.0,354.5 1088.0,354.5 1089.0,354.5 1090.0,354.5 1091.0,354.5 1092.0,354.5 1093.0,355.5 1094.0,355.5 1095.0,355.5 1096.0,355.5 1097.0,354.5 1098.0,354.5 1099.0,354.5 1100.0,353.5 1101.0,354.5 1102.0,352.5 1103.0,353.5 1104.0,353.5 1105.0,354.5 1106.0,353.5 1107.0,353.5 1108.0,353.5 1109.0,354.5 1110.0,353.5 1111.0,353.5 1112.0,353.5 1113.0,353.5 1114.0,353.5 1115.0,353.5 1116.0,353.5 1117.0,352.5 1118.0,351.5 1119.0,352.5 1120.0,352.5 1121.0,352.5 1122.0,353.5 1123.0,353.5 1124.0,353.5 1125.0,354.5 1126.0,353.5 1127.0,353.5 1128.0,353.5 1129.0,353.5 1130.0,353.5 1131.0,354.5 1132.0,353.5 1133.0,354.5 1134.0,354.5 1135.0,354.5 1136.0,354.5 1137.0,354.5 1138.0,354.5 1139.0,355.5 1140.0,355.5 1141.0,354.5 1142.0,354.5 1143.0,355.5 1144.0,355.5 1145.0,355.5 1146.0,355.5 1147.0,356.5 1148.0,356.5 1149.0,356.5 1150.0,356.5 1151.0,356.5 1152.0,356.5 1153.0,357.5 1154.0,356.5 1155.0,357.5 1156.0,356.5 1157.0,357.5 1158.0,357.5 1159.0,357.5 1160.0,357.5 1161.0,358.5 1162.0,358.5 1163.0,357.5 1164.0,358.5 1165.0,359.5 1166.0,358.5 1167.0,358.5 1168.0,358.5 1169.0,358.5 1170.0,358.5 1171.0,358.5 1172.0,357.5 1173.0,358.5 1174.0,358.5 1175.0,357.5 1176.0,358.5 1177.0,358.5 1178.0,358.5 1179.0,357.5 1180.0,359.5 1181.0,359.5 1182.0,358.5 1183.0,358.5 1184.0,358.5 1185.0,358.5 1186.0,358.5 1187.0,359.5 1188.0,358.5 1189.0,359.5 1190.0,358.5 1191.0,359.5 1192.0,358.5 1193.0,358.5 1194.0,358.5 1195.0,358.5 1196.0,359.5 1197.0,358.5 1198.0,358.5 1199.0,359.5 1200.0,358.5 1201.0,359.5 1202.0,359.5 1203.0,358.5 1204.0,359.5 1205.0,358.5 1206.0,358.5 1207.0,359.5 1208.0,359.5 1209.0,359.5 1210.0,359.5 1211.0,358.5 1212.0,359.5 1213.0,359.5 1214.0,359.5 1215.0,359.5 1216.0,359.5 1217.0,359.5 1218.0,359.5 1219.0,359.5 1220.0,359.5 1221.0,359.5 1222.0,359.5 1223.0,359.5 1224.0,360.5 1225.0,360.5 1226.0,360.5 1227.0,360.5 1228.0,360.5 1229.0,360.5 1230.0,359.5 1231.0,360.5 1232.0,360.5 1233.0,360.5 1234.0,360.5 1235.0,360.5 1236.0,361.5 1237.0,360.5 1238.0,361.5 1239.0,361.5 1240.0,361.5 1241.0,361.5 1242.0,360.5 1243.0,361.5 1244.0,360.5 1245.0,361.5 1246.0,360.5 1247.0,360.5 1248.0,359.5 1249.0,359.5 1250.0,359.5" fill="none" stroke="#0000ff" stroke-width="3" stroke-linejoin="round" stroke-linecap="square"/></g>
<g shape-rendering="crispEdges"><rect x="51" y="424" width="2" height="13" fill="#808080"/><rect x="458" y="424" width="2" height="13" fill="#808080"/><rect x="289" y="424" width="2" height="13" fill="#ffff00"/><rect x="1152" y="424" width="2" height="13" fill="#ffff00"/></g>
<rect x="50.5" y="33.5" width="9" height="9" fill="#ff0000" stroke="#000" stroke-width="1" shape-rendering="crispEdges"/>
<rect x="145.5" y="33.5" width="9" height="9" fill="#00ff00" stroke="#000" stroke-width="1" shape-rendering="crispEdges"/>
<rect x="240.5" y="33.5" width="9" height="9" fill="#800000" stroke="#000" stroke-width="1" shape-rendering="crispEdges"/>
<rect x="335.5" y="33.5" width="9" height="9" fill="#0000ff" stroke="#000" stroke-width="1" shape-rendering="crispEdges"/>
<g shape-rendering="crispEdges"><path d="M40 457 L40 454 L41 454 L41 453 L42 453 L42 452 L43 452 L43 451 L47 451 L47 452 L48 452 L48 453 L49 453 L49 457 Z" fill="#ffff00"/><rect x="47" y="448" width="11" height="11" fill="#000090"/><path d="M52 454 L54 450 L55 450 L55 456 L53 456 L53 459 L52 459 L52 456 L51 456 Z" fill="#000"/><path d="M54.5 450.5 L57.5 456 L55.7 456 L55.7 459 L53.3 459 L53.3 456 L51.8 456 Z" fill="#ffff00"/><rect x="454" y="448" width="11" height="11" fill="#000090"/><path d="M456 448 L456 452 L454.7 452 L457.5 457 L460.8 452 L459.5 452 L459.5 448 Z" fill="#000"/><path d="M456 448 L456 451 L455 451 L457.5 455.5 L460 451 L459 451 L459 448 Z" fill="#ffff00"/><rect x="1150.5" y="451.5" width="5" height="5" fill="none" stroke="#ffff80"/></g>
<clipPath id="m1"><rect x="47" y="448" width="11" height="11"/></clipPath><circle cx="49.7" cy="450.8" r="2.9" fill="#fff" clip-path="url(#m1)"/>
<clipPath id="m2"><rect x="454" y="448" width="11" height="11"/></clipPath><circle cx="462" cy="458.3" r="3.1" fill="#fff" clip-path="url(#m2)"/>
<circle cx="290.2" cy="454" r="3.1" fill="#ffff00"/><circle cx="290.2" cy="454" r="5" fill="none" stroke="#ffff70" stroke-width="1.2" stroke-dasharray="1.6 2.3"/>
<g fill="#a0a0a0" shape-rendering="crispEdges"><rect x="88" y="468" width="1" height="84"/><rect x="205" y="468" width="1" height="84"/><rect x="323" y="468" width="1" height="84"/><rect x="441" y="468" width="1" height="84"/><rect x="559" y="468" width="1" height="84"/><rect x="795" y="468" width="1" height="84"/></g>
<g shape-rendering="crispEdges" fill="#808080"><rect x="1272" y="47" width="8" height="2"/><rect x="1271" y="467" width="1" height="85" fill="#a0a0a0"/><rect x="1272" y="87" width="1" height="1"/><rect x="1276" y="87" width="3" height="1"/><rect x="1272" y="127" width="1" height="1"/><rect x="1276" y="127" width="3" height="1"/><rect x="1272" y="166" width="1" height="1"/><rect x="1276" y="166" width="3" height="1"/><rect x="1272" y="205" width="1" height="1"/><rect x="1276" y="205" width="3" height="1"/><rect x="1272" y="245" width="1" height="1"/><rect x="1276" y="245" width="3" height="1"/><rect x="1272" y="284" width="1" height="1"/><rect x="1276" y="284" width="3" height="1"/><rect x="1272" y="323" width="1" height="1"/><rect x="1276" y="323" width="3" height="1"/><rect x="1272" y="363" width="1" height="1"/><rect x="1276" y="363" width="3" height="1"/><rect x="1272" y="402" width="1" height="1"/><rect x="1276" y="402" width="3" height="1"/><rect x="1272" y="441" width="1" height="1"/><rect x="1276" y="441" width="3" height="1"/><rect x="1272" y="481" width="1" height="1"/><rect x="1276" y="481" width="3" height="1"/><rect x="1272" y="520" width="1" height="1"/><rect x="1276" y="520" width="3" height="1"/><rect x="1272" y="429" width="8" height="3" fill="#800000"/><rect x="1272" y="487" width="8" height="2" fill="#ff0000"/><path d="M1272 484 H1277 V486 H1278 V490 H1279 V496 H1280 V498 H1277 V494 H1276 V488 H1275 V487 H1272 Z" fill="#00ff00"/></g>
<g filter="url(#tf)"><text x="638.5" y="21" font-size="16" fill="#000" text-anchor="middle" filter="url(#tf2)">Donnerstag, 06.07.2023</text>
<text x="1040.2" y="16" font-size="11.71" fill="#ff0000" textLength="228.6" lengthAdjust="spacingAndGlyphs">© private Wetterstation Tinnum/Westerland/Sylt</text>
<text x="19.7" y="37" font-size="11.71" fill="#ff0000" textLength="11.1" lengthAdjust="spacingAndGlyphs">°C</text>
<text x="34.5" y="63.5" font-size="11.71" fill="#ff0000" text-anchor="end" textLength="21.41" lengthAdjust="spacingAndGlyphs">39.0</text>
<text x="34.5" y="85.5" font-size="11.71" fill="#ff0000" text-anchor="end" textLength="21.41" lengthAdjust="spacingAndGlyphs">37.0</text>
<text x="34.5" y="106.5" font-size="11.71" fill="#ff0000" text-anchor="end" textLength="21.41" lengthAdjust="spacingAndGlyphs">35.0</text>
<text x="34.5" y="128.5" font-size="11.71" fill="#ff0000" text-anchor="end" textLength="21.41" lengthAdjust="spacingAndGlyphs">33.0</text>
<text x="34.5" y="150.5" font-size="11.71" fill="#ff0000" text-anchor="end" textLength="21.41" lengthAdjust="spacingAndGlyphs">31.0</text>
<text x="34.5" y="171.5" font-size="11.71" fill="#ff0000" text-anchor="end" textLength="21.41" lengthAdjust="spacingAndGlyphs">29.0</text>
<text x="34.5" y="193.5" font-size="11.71" fill="#ff0000" text-anchor="end" textLength="21.41" lengthAdjust="spacingAndGlyphs">27.0</text>
<text x="34.5" y="215.5" font-size="11.71" fill="#ff0000" text-anchor="end" textLength="21.41" lengthAdjust="spacingAndGlyphs">25.0</text>
<text x="34.5" y="237.5" font-size="11.71" fill="#ff0000" text-anchor="end" textLength="21.41" lengthAdjust="spacingAndGlyphs">23.0</text>
<text x="34.5" y="258.5" font-size="11.71" fill="#ff0000" text-anchor="end" textLength="21.41" lengthAdjust="spacingAndGlyphs">21.0</text>
<text x="34.5" y="280.5" font-size="11.71" fill="#ff0000" text-anchor="end" textLength="21.41" lengthAdjust="spacingAndGlyphs">19.0</text>
<text x="34.5" y="302.5" font-size="11.71" fill="#ff0000" text-anchor="end" textLength="21.41" lengthAdjust="spacingAndGlyphs">17.0</text>
<text x="34.5" y="323.5" font-size="11.71" fill="#ff0000" text-anchor="end" textLength="21.41" lengthAdjust="spacingAndGlyphs">15.0</text>
<text x="34.5" y="345.5" font-size="11.71" fill="#ff0000" text-anchor="end" textLength="21.41" lengthAdjust="spacingAndGlyphs">13.0</text>
<text x="34.5" y="367.5" font-size="11.71" fill="#ff0000" text-anchor="end" textLength="20.59" lengthAdjust="spacingAndGlyphs">11.0</text>
<text x="34.5" y="389.5" font-size="11.71" fill="#ff0000" text-anchor="end" textLength="15.29" lengthAdjust="spacingAndGlyphs">9.0</text>
<text x="34.5" y="410.5" font-size="11.71" fill="#ff0000" text-anchor="end" textLength="15.29" lengthAdjust="spacingAndGlyphs">7.0</text>
<text x="34.5" y="432.5" font-size="11.71" fill="#ff0000" text-anchor="end" textLength="15.29" lengthAdjust="spacingAndGlyphs">5.0</text>
<text x="41" y="447" font-size="11.71" fill="#000" text-anchor="middle" textLength="27.52" lengthAdjust="spacingAndGlyphs">00:00</text>
<text x="91" y="447" font-size="11.71" fill="#000" text-anchor="middle" textLength="27.52" lengthAdjust="spacingAndGlyphs">01:00</text>
<text x="142" y="447" font-size="11.71" fill="#000" text-anchor="middle" textLength="27.52" lengthAdjust="spacingAndGlyphs">02:00</text>
<text x="192" y="447" font-size="11.71" fill="#000" text-anchor="middle" textLength="27.52" lengthAdjust="spacingAndGlyphs">03:00</text>
<text x="243" y="447" font-size="11.71" fill="#000" text-anchor="middle" textLength="27.52" lengthAdjust="spacingAndGlyphs">04:00</text>
<text x="293" y="447" font-size="11.71" fill="#000" text-anchor="middle" textLength="27.52" lengthAdjust="spacingAndGlyphs">05:00</text>
<text x="343" y="447" font-size="11.71" fill="#000" text-anchor="middle" textLength="27.52" lengthAdjust="spacingAndGlyphs">06:00</text>
<text x="394" y="447" font-size="11.71" fill="#000" text-anchor="middle" textLength="27.52" lengthAdjust="spacingAndGlyphs">07:00</text>
<text x="444" y="447" font-size="11.71" fill="#000" text-anchor="middle" textLength="27.52" lengthAdjust="spacingAndGlyphs">08:00</text>
<text x="495" y="447" font-size="11.71" fill="#000" text-anchor="middle" textLength="27.52" lengthAdjust="spacingAndGlyphs">09:00</text>
<text x="545" y="447" font-size="11.71" fill="#000" text-anchor="middle" textLength="27.52" lengthAdjust="spacingAndGlyphs">10:00</text>
<text x="596" y="447" font-size="11.71" fill="#000" text-anchor="middle" textLength="26.71" lengthAdjust="spacingAndGlyphs">11:00</text>
<text x="646" y="447" font-size="11.71" fill="#000" text-anchor="middle" textLength="27.52" lengthAdjust="spacingAndGlyphs">12:00</text>
<text x="696" y="447" font-size="11.71" fill="#000" text-anchor="middle" textLength="27.52" lengthAdjust="spacingAndGlyphs">13:00</text>
<text x="747" y="447" font-size="11.71" fill="#000" text-anchor="middle" textLength="27.52" lengthAdjust="spacingAndGlyphs">14:00</text>
<text x="797" y="447" font-size="11.71" fill="#000" text-anchor="middle" textLength="27.52" lengthAdjust="spacingAndGlyphs">15:00</text>
<text x="848" y="447" font-size="11.71" fill="#000" text-anchor="middle" textLength="27.52" lengthAdjust="spacingAndGlyphs">16:00</text>
<text x="898" y="447" font-size="11.71" fill="#000" text-anchor="middle" textLength="27.52" lengthAdjust="spacingAndGlyphs">17:00</text>
<text x="949" y="447" font-size="11.71" fill="#000" text-anchor="middle" textLength="27.52" lengthAdjust="spacingAndGlyphs">18:00</text>
<text x="999" y="447" font-size="11.71" fill="#000" text-anchor="middle" textLength="27.52" lengthAdjust="spacingAndGlyphs">19:00</text>
<text x="1049" y="447" font-size="11.71" fill="#000" text-anchor="middle" textLength="27.52" lengthAdjust="spacingAndGlyphs">20:00</text>
<text x="1100" y="447" font-size="11.71" fill="#000" text-anchor="middle" textLength="27.52" lengthAdjust="spacingAndGlyphs">21:00</text>
<text x="1150" y="447" font-size="11.71" fill="#000" text-anchor="middle" textLength="27.52" lengthAdjust="spacingAndGlyphs">22:00</text>
<text x="1201" y="447" font-size="11.71" fill="#000" text-anchor="middle" textLength="27.52" lengthAdjust="spacingAndGlyphs">23:00</text>
<text x="1251" y="447" font-size="11.71" fill="#000" text-anchor="middle" textLength="27.52" lengthAdjust="spacingAndGlyphs">24:00</text>
<text x="64.7" y="42" font-size="11.71" fill="#ff0000" textLength="42.1" lengthAdjust="spacingAndGlyphs">TLuft 2m</text>
<text x="159.7" y="42" font-size="11.71" fill="#ff0000" textLength="63.6" lengthAdjust="spacingAndGlyphs">TBoden+5cm</text>
<text x="254.7" y="42" font-size="11.71" fill="#ff0000" textLength="70.6" lengthAdjust="spacingAndGlyphs">TBoden -10cm</text>
<text x="349.7" y="42" font-size="11.71" fill="#ff0000" textLength="45.6" lengthAdjust="spacingAndGlyphs">Taupunkt</text>
<text x="10.7" y="458" font-size="11.71" fill="#000" textLength="26.6" lengthAdjust="spacingAndGlyphs">17:07</text>
<text x="58.7" y="458" font-size="11.71" fill="#000" textLength="26.6" lengthAdjust="spacingAndGlyphs">00:14</text>
<text x="256.7" y="458" font-size="11.71" fill="#000" textLength="26.6" lengthAdjust="spacingAndGlyphs">04:57</text>
<text x="465.7" y="458" font-size="11.71" fill="#000" textLength="26.6" lengthAdjust="spacingAndGlyphs">08:19</text>
<text x="1119.7" y="458" font-size="11.71" fill="#000" textLength="26.6" lengthAdjust="spacingAndGlyphs">22:05</text>
<text x="8.7" y="486" font-size="11.71" fill="#000" font-weight="bold" textLength="38.6" lengthAdjust="spacing">Sensor</text>
<text x="8.7" y="502" font-size="11.71" fill="#000" font-weight="bold" textLength="46.6" lengthAdjust="spacing">MinWert</text>
<text x="8.7" y="518" font-size="11.71" fill="#000" font-weight="bold" textLength="49.6" lengthAdjust="spacing">MaxWert</text>
<text x="8.7" y="534" font-size="11.71" fill="#000" font-weight="bold" textLength="71.6" lengthAdjust="spacing">Durchschnitt</text>
<text x="8.7" y="550" font-size="11.71" fill="#000" font-weight="bold" textLength="71.6" lengthAdjust="spacing">06.07. 23:59</text>
<text x="94.7" y="486" font-size="11.71" fill="#000" font-weight="bold" textLength="49.6" lengthAdjust="spacing">TLuft 2m</text>
<text x="185.7" y="486" font-size="11.71" fill="#000" font-weight="bold" textLength="12.6" lengthAdjust="spacingAndGlyphs">°C</text>
<text x="100.7" y="502" font-size="11.71" fill="#000" textLength="26.6" lengthAdjust="spacingAndGlyphs">00:50</text>
<text x="198.3" y="502" font-size="11.71" fill="#000" text-anchor="end" textLength="21.41" lengthAdjust="spacingAndGlyphs">13.3</text>
<text x="100.7" y="518" font-size="11.71" fill="#000" textLength="26.6" lengthAdjust="spacingAndGlyphs">12:36</text>
<text x="198.3" y="518" font-size="11.71" fill="#000" text-anchor="end" textLength="21.41" lengthAdjust="spacingAndGlyphs">20.4</text>
<text x="198.3" y="534" font-size="11.71" fill="#000" text-anchor="end" textLength="27.52" lengthAdjust="spacingAndGlyphs">16.99</text>
<text x="173.7" y="550" font-size="11.71" fill="#000" font-weight="bold" textLength="24.6" lengthAdjust="spacing">16.0</text>
<text x="212.7" y="486" font-size="11.71" fill="#000" font-weight="bold" textLength="73.6" lengthAdjust="spacing">TBoden+5cm</text>
<text x="303.7" y="486" font-size="11.71" fill="#000" font-weight="bold" textLength="12.6" lengthAdjust="spacingAndGlyphs">°C</text>
<text x="218.7" y="502" font-size="11.71" fill="#000" textLength="26.6" lengthAdjust="spacingAndGlyphs">01:32</text>
<text x="316.3" y="502" font-size="11.71" fill="#000" text-anchor="end" textLength="21.41" lengthAdjust="spacingAndGlyphs">12.8</text>
<text x="218.7" y="518" font-size="11.71" fill="#000" textLength="26.6" lengthAdjust="spacingAndGlyphs">15:50</text>
<text x="316.3" y="518" font-size="11.71" fill="#000" text-anchor="end" textLength="21.41" lengthAdjust="spacingAndGlyphs">27.8</text>
<text x="316.3" y="534" font-size="11.71" fill="#000" text-anchor="end" textLength="27.52" lengthAdjust="spacingAndGlyphs">18.85</text>
<text x="291.7" y="550" font-size="11.71" fill="#000" font-weight="bold" textLength="24.6" lengthAdjust="spacing">15.6</text>
<text x="330.7" y="486" font-size="11.71" fill="#000" font-weight="bold" textLength="81.6" lengthAdjust="spacing">TBoden -10cm</text>
<text x="421.7" y="486" font-size="11.71" fill="#000" font-weight="bold" textLength="12.6" lengthAdjust="spacingAndGlyphs">°C</text>
<text x="336.7" y="502" font-size="11.71" fill="#000" textLength="26.6" lengthAdjust="spacingAndGlyphs">04:59</text>
<text x="434.3" y="502" font-size="11.71" fill="#000" text-anchor="end" textLength="21.41" lengthAdjust="spacingAndGlyphs">15.6</text>
<text x="336.7" y="518" font-size="11.71" fill="#000" textLength="26.6" lengthAdjust="spacingAndGlyphs">15:55</text>
<text x="434.3" y="518" font-size="11.71" fill="#000" text-anchor="end" textLength="21.41" lengthAdjust="spacingAndGlyphs">22.2</text>
<text x="434.3" y="534" font-size="11.71" fill="#000" text-anchor="end" textLength="27.52" lengthAdjust="spacingAndGlyphs">18.49</text>
<text x="409.7" y="550" font-size="11.71" fill="#000" font-weight="bold" textLength="24.6" lengthAdjust="spacing">18.9</text>
<text x="448.7" y="486" font-size="11.71" fill="#000" font-weight="bold" textLength="53.6" lengthAdjust="spacing">Taupunkt</text>
<text x="539.7" y="486" font-size="11.71" fill="#000" font-weight="bold" textLength="12.6" lengthAdjust="spacingAndGlyphs">°C</text>
<text x="454.7" y="502" font-size="11.71" fill="#000" textLength="26.6" lengthAdjust="spacingAndGlyphs">02:46</text>
<text x="552.3" y="502" font-size="11.71" fill="#000" text-anchor="end" textLength="15.29" lengthAdjust="spacingAndGlyphs">9.1</text>
<text x="454.7" y="518" font-size="11.71" fill="#000" textLength="26.6" lengthAdjust="spacingAndGlyphs">12:36</text>
<text x="552.3" y="518" font-size="11.71" fill="#000" text-anchor="end" textLength="21.41" lengthAdjust="spacingAndGlyphs">13.1</text>
<text x="552.3" y="534" font-size="11.71" fill="#000" text-anchor="end" textLength="20.59" lengthAdjust="spacingAndGlyphs">11.2</text>
<text x="527.7" y="550" font-size="11.71" fill="#000" font-weight="bold" textLength="24.6" lengthAdjust="spacing">11.4</text>
<text x="684.2" y="486" font-size="11.71" fill="#000" textLength="67.1" lengthAdjust="spacingAndGlyphs">Wolkenunterg</text>
<text x="763.7" y="486" font-size="11.71" fill="#000" textLength="25.6" lengthAdjust="spacingAndGlyphs">579m</text>
<text x="684.2" y="502" font-size="11.71" fill="#000" textLength="49.1" lengthAdjust="spacingAndGlyphs">Sichtweite</text>
<text x="753.7" y="502" font-size="11.71" fill="#000" textLength="34.6" lengthAdjust="spacingAndGlyphs">6-10km</text>
<text x="684.2" y="518" font-size="11.71" fill="#000" textLength="46.1" lengthAdjust="spacingAndGlyphs">Neumond</text>
<text x="746.7" y="518" font-size="11.71" fill="#000" textLength="41.6" lengthAdjust="spacingAndGlyphs">17.07.23</text>
<text x="684.2" y="534" font-size="11.71" fill="#000" textLength="43.1" lengthAdjust="spacingAndGlyphs">Vollmond</text>
<text x="746.7" y="534" font-size="11.71" fill="#000" textLength="41.6" lengthAdjust="spacingAndGlyphs">01.08.23</text>
<text x="684.2" y="550" font-size="11.71" fill="#000" textLength="56.1" lengthAdjust="spacingAndGlyphs">Mondphase</text>
<text x="764.7" y="550" font-size="11.71" fill="#000" textLength="25.6" lengthAdjust="spacingAndGlyphs">- 83%</text></g></svg>
</body></html>
